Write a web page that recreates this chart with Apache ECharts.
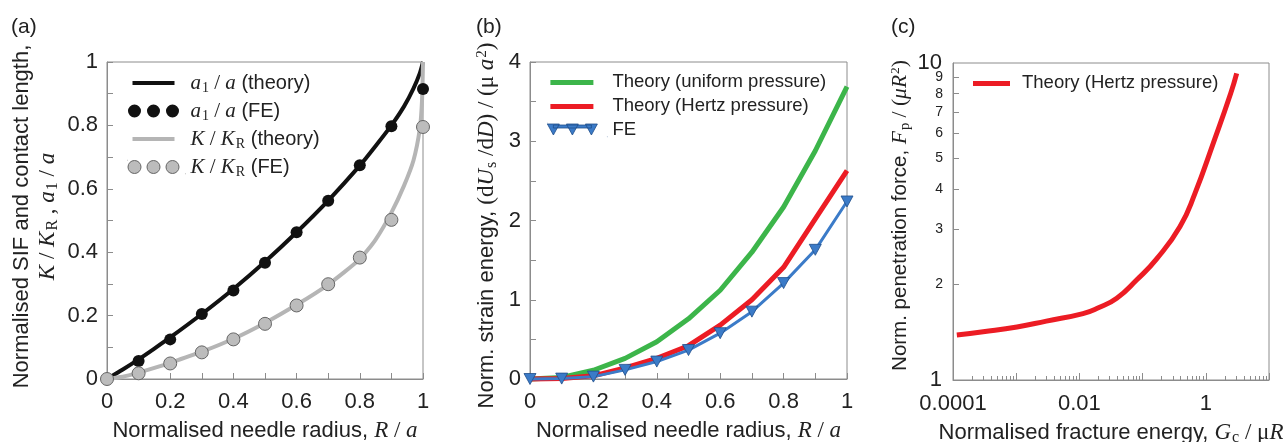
<!DOCTYPE html>
<html>
<head>
<meta charset="utf-8">
<script src="https://cdn.jsdelivr.net/npm/echarts@6/dist/echarts.min.js"></script>
<style>
html, body { margin: 0; padding: 0; background: #fff; }
#main { width: 1283px; height: 442px; }
</style>
</head>
<body>
<div id="main"></div>
<script>
// (a) SIF and contact length
var radiusFE = [0, 0.1, 0.2, 0.3, 0.4, 0.5, 0.6, 0.7, 0.8, 0.9, 1.0];
var contactFE = [0, 0.057, 0.125, 0.205, 0.279, 0.367, 0.463, 0.562, 0.674, 0.797, 0.915];
var sifFE = [0, 0.018, 0.049, 0.084, 0.125, 0.174, 0.232, 0.299, 0.383, 0.502, 0.795];
var contactTheoryX = [0, 0.05, 0.1, 0.15, 0.2, 0.3, 0.4, 0.5, 0.6, 0.7, 0.8, 0.85, 0.9, 0.94, 0.97, 0.99, 1.0];
var contactTheoryY = [0, 0.03, 0.062, 0.096, 0.131, 0.205, 0.284, 0.37, 0.463, 0.563, 0.673, 0.735, 0.8, 0.86, 0.917, 0.965, 1.0];
var sifTheoryX = [0, 0.05, 0.1, 0.15, 0.2, 0.3, 0.4, 0.5, 0.6, 0.7, 0.8, 0.85, 0.9, 0.94, 0.97, 0.99, 0.997, 1.0];
var sifTheoryY = [0, 0.007, 0.02, 0.035, 0.051, 0.086, 0.127, 0.177, 0.234, 0.298, 0.378, 0.44, 0.525, 0.61, 0.69, 0.79, 0.88, 1.0];

// (b) strain energy
var radiusB = [0, 0.1, 0.2, 0.3, 0.4, 0.5, 0.6, 0.7, 0.8, 0.9, 1.0];
var uniformTheory = [0, 0.02, 0.11, 0.26, 0.47, 0.76, 1.12, 1.6, 2.17, 2.88, 3.69];
var hertzTheory = [0, 0.005, 0.04, 0.14, 0.26, 0.42, 0.68, 1.0, 1.41, 2.02, 2.63];
var strainFE = [0, 0.005, 0.03, 0.115, 0.22, 0.365, 0.578, 0.85, 1.21, 1.63, 2.24];

// (c) penetration force
var fractureEnergy = [1.15e-4, 3e-4, 1.03e-3, 3e-3, 0.0114, 0.02, 0.039, 0.081, 0.167, 0.391, 0.674, 1.31, 2.48, 3.08];
var penetrationForce = [1.387, 1.42, 1.47, 1.534, 1.62, 1.69, 1.81, 2.07, 2.41, 3.05, 3.88, 5.58, 8.03, 9.28];
var forceTicks = [2, 3, 4, 5, 6, 7, 8, 9];
var energyLabels = { '-4': '0.0001', '-2': '0.01', '0': '1' };

var SANS = 'Liberation Sans, Arial, sans-serif';
var SERIF = 'Liberation Serif, Times New Roman, serif';
var INK = '#222';
var FRAME = '#8c8c8c';

function zip(xs, ys) {
    var res = [];
    for (var i = 0; i < xs.length; i++) res.push([xs[i], ys[i]]);
    return res;
}

function rich(size) {
    return {
        i: { fontFamily: SERIF, fontStyle: 'italic', fontSize: size + 1, color: INK },
        s: { fontFamily: SERIF, fontSize: size + 1, color: INK },
        sub: { fontFamily: SERIF, fontSize: size - 6, color: INK, padding: [10, 0, 0, 1] },
        sup: { fontFamily: SERIF, fontSize: size - 7, color: INK, padding: [0, 0, 10, 1] }
    };
}

// tiny corner marks fix the icon box so keepAspect does not stretch
function box(w, h) {
    return 'M0,0h0.1v0.1h-0.1zM' + (w - 0.1) + ',' + (h - 0.1) + 'h0.1v0.1h-0.1z';
}
var lineIconA = 'path://' + box(58, 14) + 'M5,5h42v4h-42z';
var dotsIconA = 'path://' + box(58, 14) +
    'M0.5,7a6.5,6.5 0 1,0 13,0a6.5,6.5 0 1,0 -13,0z' +
    'M19.5,7a6.5,6.5 0 1,0 13,0a6.5,6.5 0 1,0 -13,0z' +
    'M38.5,7a6.5,6.5 0 1,0 13,0a6.5,6.5 0 1,0 -13,0z';
var lineIconB = 'path://' + box(60, 14) + 'M3,5h43v5h-43z';
var triIconB = 'path://' + box(60, 14) + 'M6,2h38v3h-38z' +
    'M0,1h12l-6,11z' + 'M19,1h12l-6,11z' + 'M38,1h12l-6,11z';
var lineIconC = 'path://' + box(44, 14) + 'M0,5h37v5h-37z';

var legendText = {
    contactTheory: '{i|a}{sub|1}{s| / }{i|a} (theory)',
    contactFE: '{i|a}{sub|1}{s| / }{i|a} (FE)',
    sifTheory: '{i|K}{s| / }{i|K}{sub|R} (theory)',
    sifFE: '{i|K}{s| / }{i|K}{sub|R} (FE)',
    uniform: 'Theory (uniform pressure)',
    hertz: 'Theory (Hertz pressure)',
    strainFE: 'FE',
    hertzC: 'Theory (Hertz pressure) '
};

var minorX = [];
for (var d = -4; d < 1; d++) {
    for (var m = 2; m <= 9; m++) minorX.push(d + Math.log10(m));
}
var forceLog = forceTicks.map(function (v) { return Math.log10(v); });

function valueAxis(grid, min, max, interval, extra) {
    var ax = {
        gridIndex: grid, type: 'value', min: min, max: max, interval: interval,
        axisLine: { show: true, onZero: false, lineStyle: { color: FRAME, width: 1 } },
        axisTick: { show: true, inside: true, length: 6, lineStyle: { color: FRAME } },
        minorTick: { show: true, splitNumber: 2, length: 6, lineStyle: { color: FRAME } },
        splitLine: { show: false },
        minorSplitLine: { show: false },
        axisLabel: { fontFamily: SANS, fontSize: 22, color: INK, margin: 9 },
        nameLocation: 'middle',
        nameTextStyle: { fontFamily: SANS, fontSize: 22, color: INK, lineHeight: 26, rich: rich(22) }
    };
    for (var k in extra) ax[k] = extra[k];
    return ax;
}

var myChart = echarts.init(document.getElementById('main'));

var option = {
    backgroundColor: '#fff',
    animation: false,
    title: [
        { text: '(a)', left: 6, top: 12, textStyle: { fontFamily: SANS, fontSize: 21, fontWeight: 'normal', color: INK } },
        { text: '(b)', left: 471, top: 12, textStyle: { fontFamily: SANS, fontSize: 21, fontWeight: 'normal', color: INK } },
        { text: '(c)', left: 886, top: 12, textStyle: { fontFamily: SANS, fontSize: 21, fontWeight: 'normal', color: INK } }
    ],
    grid: [
        { left: 107, top: 62, width: 316, height: 317, show: true, borderColor: FRAME, borderWidth: 1, outerBoundsMode: 'none' },
        { left: 530, top: 62, width: 317, height: 317, show: true, borderColor: FRAME, borderWidth: 1, outerBoundsMode: 'none' },
        { left: 953, top: 63, width: 316, height: 317, show: true, borderColor: FRAME, borderWidth: 1, outerBoundsMode: 'none' }
    ],
    legend: [
        {
            orient: 'vertical', left: 122, top: 64, itemWidth: 58, itemHeight: 14, itemGap: 0,
            itemStyle: { borderWidth: 0 },
            textStyle: { fontFamily: SANS, fontSize: 20, color: INK, lineHeight: 28, rich: rich(20) },
            formatter: function (name) { return legendText[name]; },
            data: [
                { name: 'contactTheory', icon: lineIconA },
                { name: 'contactFE', icon: dotsIconA },
                { name: 'sifTheory', icon: lineIconA },
                { name: 'sifFE', icon: dotsIconA, itemStyle: { borderColor: '#666', borderWidth: 1 } }
            ]
        },
        {
            orient: 'vertical', left: 542, top: 65, itemWidth: 60, itemHeight: 14, itemGap: 0,
            itemStyle: { borderWidth: 0 },
            textStyle: { fontFamily: SANS, fontSize: 18.5, color: INK, lineHeight: 24 },
            formatter: function (name) { return legendText[name]; },
            data: [
                { name: 'uniform', icon: lineIconB },
                { name: 'hertz', icon: lineIconB },
                { name: 'strainFE', icon: triIconB, itemStyle: { borderColor: '#1f4e8a', borderWidth: 0.8 } }
            ]
        },
        {
            orient: 'vertical', left: 968, top: 66, itemWidth: 44, itemHeight: 14, itemGap: 0,
            itemStyle: { borderWidth: 0 },
            textStyle: { fontFamily: SANS, fontSize: 18.5, color: INK, lineHeight: 24 },
            formatter: function (name) { return legendText[name]; },
            data: [{ name: 'hertzC', icon: lineIconC }]
        }
    ],
    xAxis: [
        valueAxis(0, 0, 1, 0.2, {
            name: 'Normalised needle radius, {i|R}{s| / }{i|a}', nameGap: 39,
            axisLabel: { fontFamily: SANS, fontSize: 22, color: INK, margin: 12 }
        }),
        valueAxis(1, 0, 1, 0.2, {
            name: 'Normalised needle radius, {i|R}{s| / }{i|a}', nameGap: 37,
            axisLabel: { fontFamily: SANS, fontSize: 22, color: INK, margin: 12 }
        }),
        {
            gridIndex: 2, type: 'log', logBase: 10, min: 1e-4, max: 10,
            axisLine: { show: true, onZero: false, lineStyle: { color: FRAME } },
            axisTick: { show: true, inside: true, length: 7, lineStyle: { color: FRAME } },
            splitLine: { show: false },
            axisLabel: {
                fontFamily: SANS, fontSize: 22, color: INK, margin: 13,
                formatter: function (v) {
                    var e = Math.round(Math.log10(v));
                    return energyLabels[e] || '';
                }
            },
            name: 'Normalised fracture energy, {i|G}{sub|c}{s| / μ}{i|R}',
            nameLocation: 'middle', nameGap: 40,
            nameTextStyle: { fontFamily: SANS, fontSize: 22, color: INK, lineHeight: 26, rich: rich(22) }
        },
        {
            gridIndex: 2, type: 'value', min: -4, max: 1, position: 'bottom',
            axisLine: { show: false, onZero: false },
            axisLabel: { show: false },
            splitLine: { show: false },
            axisTick: { show: true, inside: true, length: 4, customValues: minorX, lineStyle: { color: FRAME } }
        }
    ],
    yAxis: [
        valueAxis(0, 0, 1, 0.2, {
            name: 'Normalised SIF and contact length,\n{i|K}{s| / }{i|K}{sub|R}{s| , }{i|a}{sub|1}{s| / }{i|a}',
            nameGap: 46,
            nameTextStyle: { fontFamily: SANS, fontSize: 22, color: INK, lineHeight: 26, padding: [0, 0, 0, 8], rich: rich(22) }
        }),
        valueAxis(1, 0, 4, 1, {
            name: 'Norm. strain energy, {s|(d}{i|U}{sub|s}{s| /d}{i|D}{s|) / (μ }{i|a}{sup|2}{s|)}',
            nameGap: 30,
            nameTextStyle: { fontFamily: SANS, fontSize: 22, color: INK, lineHeight: 26, padding: [0, 10, 0, 0], rich: rich(22) }
        }),
        {
            gridIndex: 2, type: 'log', logBase: 10, min: 1, max: 10,
            axisLine: { show: true, onZero: false, lineStyle: { color: FRAME } },
            axisTick: { show: false },
            axisLabel: { show: true, fontFamily: SANS, fontSize: 22, color: INK, margin: 11, showMinLabel: true, showMaxLabel: true },
            splitLine: { show: false },
            name: 'Norm. penetration force, {i|F}{sub|p}{s| / (}{i|μR}{sup|2}{s|)}',
            nameLocation: 'middle', nameGap: 38,
            nameTextStyle: { fontFamily: SANS, fontSize: 20.5, color: INK, lineHeight: 26, padding: [0, 0, 0, 12], rich: rich(20.5) }
        },
        {
            gridIndex: 2, type: 'value', min: 0, max: 1, position: 'left',
            axisLine: { show: false, onZero: false },
            splitLine: { show: false },
            axisTick: { show: true, inside: true, length: 6, customValues: forceLog, lineStyle: { color: FRAME } },
            axisLabel: {
                show: true, margin: 10, customValues: forceLog,
                fontFamily: SANS, fontSize: 14, color: INK,
                formatter: function (v) {
                    return String(Math.round(Math.pow(10, v)));
                }
            }
        }
    ],
    series: [
        {
            name: 'contactTheory', type: 'line', xAxisIndex: 0, yAxisIndex: 0,
            data: zip(contactTheoryX, contactTheoryY), symbol: 'none', showSymbol: false, clip: false,
            smooth: 0.2, lineStyle: { color: '#111', width: 4 }, itemStyle: { color: '#111' }, z: 2
        },
        {
            name: 'contactFE', type: 'scatter', xAxisIndex: 0, yAxisIndex: 0,
            data: zip(radiusFE, contactFE), symbolSize: 12, clip: false,
            itemStyle: { color: '#111', opacity: 1 }, z: 4
        },
        {
            name: 'sifTheory', type: 'line', xAxisIndex: 0, yAxisIndex: 0,
            data: zip(sifTheoryX, sifTheoryY), symbol: 'none', showSymbol: false, clip: false,
            smooth: 0.2, lineStyle: { color: '#b5b5b5', width: 4 }, itemStyle: { color: '#b5b5b5' }, z: 2
        },
        {
            name: 'sifFE', type: 'scatter', xAxisIndex: 0, yAxisIndex: 0,
            data: zip(radiusFE, sifFE), symbolSize: 13, clip: false,
            itemStyle: { color: '#bcbcbc', borderColor: '#666', borderWidth: 1, opacity: 1 }, z: 4
        },
        {
            name: 'uniform', type: 'line', xAxisIndex: 1, yAxisIndex: 1,
            data: zip(radiusB, uniformTheory), symbol: 'none', showSymbol: false, clip: false,
            lineStyle: { color: '#3cb54a', width: 5 }, itemStyle: { color: '#3cb54a' }
        },
        {
            name: 'hertz', type: 'line', xAxisIndex: 1, yAxisIndex: 1,
            data: zip(radiusB, hertzTheory), symbol: 'none', showSymbol: false, clip: false,
            lineStyle: { color: '#ec1c24', width: 5 }, itemStyle: { color: '#ec1c24' }
        },
        {
            name: 'strainFE', type: 'line', xAxisIndex: 1, yAxisIndex: 1,
            data: zip(radiusB, strainFE), symbol: 'triangle', symbolRotate: 180, symbolSize: [12, 11],
            showSymbol: true, clip: false,
            lineStyle: { color: '#3b7bc8', width: 3 },
            itemStyle: { color: '#3b7bc8', borderColor: '#1f4e8a', borderWidth: 0.8 }
        },
        {
            name: 'hertzC', type: 'line', xAxisIndex: 2, yAxisIndex: 2,
            data: zip(fractureEnergy, penetrationForce), symbol: 'none', showSymbol: false, clip: false,
            smooth: true, lineStyle: { color: '#ec1c24', width: 5 }, itemStyle: { color: '#ec1c24' }
        }
    ]
};

myChart.setOption(option);
window.addEventListener('resize', function () {
    myChart.resize();
});
</script>
</body>
</html>
